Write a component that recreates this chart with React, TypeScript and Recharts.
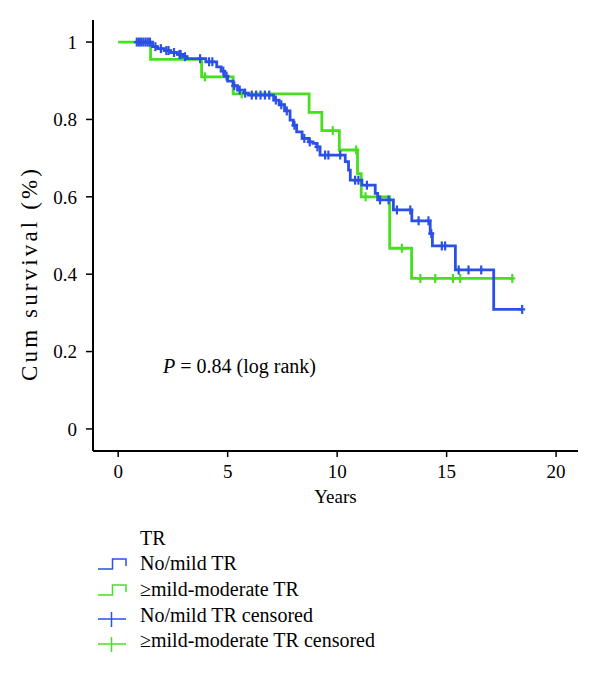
import React from 'react';
import { ComposedChart, Line, Scatter, XAxis, YAxis } from 'recharts';

// No/mild TR (blue) Kaplan-Meier steps
const blueTimes = [0.8, 1.57, 1.8, 2.1, 2.4, 2.7, 2.95, 3.15, 4.0, 4.5, 4.7, 4.85, 5.0, 5.25, 5.45, 5.75, 5.95, 7.1, 7.35, 7.6, 7.85, 8.0, 8.15, 8.4, 8.7, 8.9, 9.07, 9.22, 10.37, 10.52, 10.6, 11.13, 11.74, 11.85, 12.57, 13.41, 14.25, 14.35, 15.4, 17.15, 18.45];
const blueSurv = [1.0, 0.988, 0.983, 0.978, 0.973, 0.968, 0.962, 0.957, 0.949, 0.936, 0.925, 0.912, 0.899, 0.887, 0.876, 0.868, 0.863, 0.85, 0.838, 0.822, 0.798, 0.785, 0.768, 0.751, 0.742, 0.738, 0.729, 0.708, 0.691, 0.669, 0.643, 0.63, 0.609, 0.592, 0.566, 0.538, 0.505, 0.473, 0.411, 0.309, 0.309];
const blueCensored = [0.85, 0.95, 1.05, 1.15, 1.25, 1.35, 1.45, 1.7, 1.95, 2.2, 2.3, 2.55, 2.8, 2.85, 3.05, 3.74, 4.15, 4.3, 4.8, 4.95, 5.3, 5.55, 5.8, 6.1, 6.3, 6.5, 6.7, 6.9, 7.2, 7.45, 7.7, 8.05, 8.5, 8.75, 9.1, 9.45, 9.6, 10.14, 10.82, 10.97, 11.36, 11.96, 12.35, 12.73, 13.34, 13.72, 14.17, 14.3, 14.78, 14.93, 15.55, 16.0, 16.58, 18.45];

// >=mild-moderate TR (green)
const greenTimes = [0, 1.48, 3.81, 5.25, 8.72, 9.3, 10.1, 10.93, 11.1, 12.4, 13.4, 18.0];
const greenSurv = [1.0, 0.955, 0.91, 0.866, 0.818, 0.771, 0.721, 0.66, 0.6, 0.467, 0.389, 0.389];
const greenCensored = [3.96, 5.64, 9.8, 10.87, 11.3, 12.96, 13.8, 14.48, 15.29, 15.62, 18.0];

const xTicks = [0, 5, 10, 15, 20];
const yTicks = [0, 0.2, 0.4, 0.6, 0.8, 1];

const legendTitle = 'TR';
const legendLabels = ['No/mild TR', '\u2265mild-moderate TR', 'No/mild TR censored', '\u2265mild-moderate TR censored'];

const BLUE = '#2b50e6';
const GREEN = '#46e01e';
const FONT = '"Liberation Serif", "Times New Roman", serif';

const toSteps = (ts: number[], ss: number[]) => ts.map((t, i) => ({ t, s: ss[i] }));
const survAt = (ts: number[], ss: number[], t: number) => {
  let v = ss[0];
  for (let i = 0; i < ts.length; i++) if (ts[i] <= t) v = ss[i];
  return v;
};
const toCensor = (cs: number[], ts: number[], ss: number[]) => cs.map((t) => ({ t, s: survAt(ts, ss, t) }));

const blueData = toSteps(blueTimes, blueSurv);
const greenData = toSteps(greenTimes, greenSurv);
const blueCens = toCensor(blueCensored, blueTimes, blueSurv);
const greenCens = toCensor(greenCensored, greenTimes, greenSurv);

const censorShape = (color: string) => (p: any) => {
  const { cx, cy } = p;
  if (cx == null || cy == null) return <g />;
  return (
    <g>
      <line x1={cx} x2={cx} y1={cy - 4.5} y2={cy + 4.5} stroke={color} strokeWidth={2.2} />
      <line x1={cx - 3} x2={cx + 3} y1={cy} y2={cy} stroke={color} strokeWidth={2.2} />
    </g>
  );
};

const StepIcon = ({ y, color }: { y: number; color: string }) => (
  <path d={`M98,${y + 6} L112.5,${y + 6} L112.5,${y - 4} L126,${y - 4} L126,${y + 3}`} fill="none" stroke={color} strokeWidth={1.5} />
);
const CensorIcon = ({ y, color }: { y: number; color: string }) => (
  <g>
    <line x1={98} x2={126} y1={y + 4} y2={y + 4} stroke={color} strokeWidth={1.5} />
    <line x1={111.5} x2={111.5} y1={y - 3} y2={y + 12} stroke={color} strokeWidth={1.5} />
  </g>
);

export default function App() {
  const rows = [563, 589, 615, 640];
  return (
    <div style={{ position: 'absolute', left: 0, top: 0, width: 600, height: 684, background: '#fff' }}>
      <ComposedChart width={600} height={684} margin={{ top: 20, right: 22, left: 33, bottom: 183 }}>
        <XAxis
          type="number"
          dataKey="t"
          domain={[-1.15, 21]}
          ticks={xTicks}
          allowDataOverflow
          height={50}
          tickSize={6}
          tickMargin={8}
          axisLine={{ stroke: '#000', strokeWidth: 2 }}
          tickLine={{ stroke: '#000', strokeWidth: 1.5 }}
          tick={{ fill: '#000', fontSize: 19, fontFamily: FONT }}
        />
        <XAxis xAxisId="top" orientation="top" type="number" domain={[-1.15, 21]} height={0} tick={false} tickLine={false} axisLine={{ stroke: '#000', strokeWidth: 2 }} />
        <YAxis
          type="number"
          dataKey="s"
          domain={[-0.057, 1.057]}
          ticks={yTicks}
          allowDataOverflow
          width={60}
          tickSize={7}
          tickMargin={9}
          axisLine={{ stroke: '#000', strokeWidth: 2 }}
          tickLine={{ stroke: '#000', strokeWidth: 1.5 }}
          tick={{ fill: '#000', fontSize: 19, fontFamily: FONT }}
        />
        <YAxis yAxisId="right" orientation="right" width={0} tick={false} tickLine={false} axisLine={{ stroke: '#000', strokeWidth: 2 }} />
        <Line data={greenData} dataKey="s" type="stepAfter" stroke={GREEN} strokeWidth={2.8} dot={false} isAnimationActive={false} />
        <Scatter data={greenCens} dataKey="s" shape={censorShape(GREEN)} isAnimationActive={false} />
        <Line data={blueData} dataKey="s" type="stepAfter" stroke={BLUE} strokeWidth={2.8} dot={false} isAnimationActive={false} />
        <Scatter data={blueCens} dataKey="s" shape={censorShape(BLUE)} isAnimationActive={false} />
      </ComposedChart>
      <svg width={600} height={684} style={{ position: 'absolute', left: 0, top: 0, pointerEvents: 'none' }}>
        <text x={163} y={373} fontFamily={FONT} fontSize={20} fill="#000">
          <tspan fontStyle="italic">P</tspan> = 0.84 (log rank)
        </text>
        <text x={335.5} y={503} textAnchor="middle" fontFamily={FONT} fontSize={19} fill="#000">Years</text>
        <text x={37} y={275} transform="rotate(-90 37 275)" textAnchor="middle" fontFamily={FONT} fontSize={23} textLength={212} lengthAdjust="spacing" fill="#000">Cum survival (%)</text>
        <text x={140} y={545} fontFamily={FONT} fontSize={20} fill="#000">{legendTitle}</text>
        <StepIcon y={rows[0]} color={BLUE} />
        <StepIcon y={rows[1]} color={GREEN} />
        <CensorIcon y={rows[2]} color={BLUE} />
        <CensorIcon y={rows[3]} color={GREEN} />
        {legendLabels.map((l, i) => (
          <text key={l} x={140} y={rows[i] + 7} fontFamily={FONT} fontSize={20} fill="#000">{l}</text>
        ))}
      </svg>
    </div>
  );
}
